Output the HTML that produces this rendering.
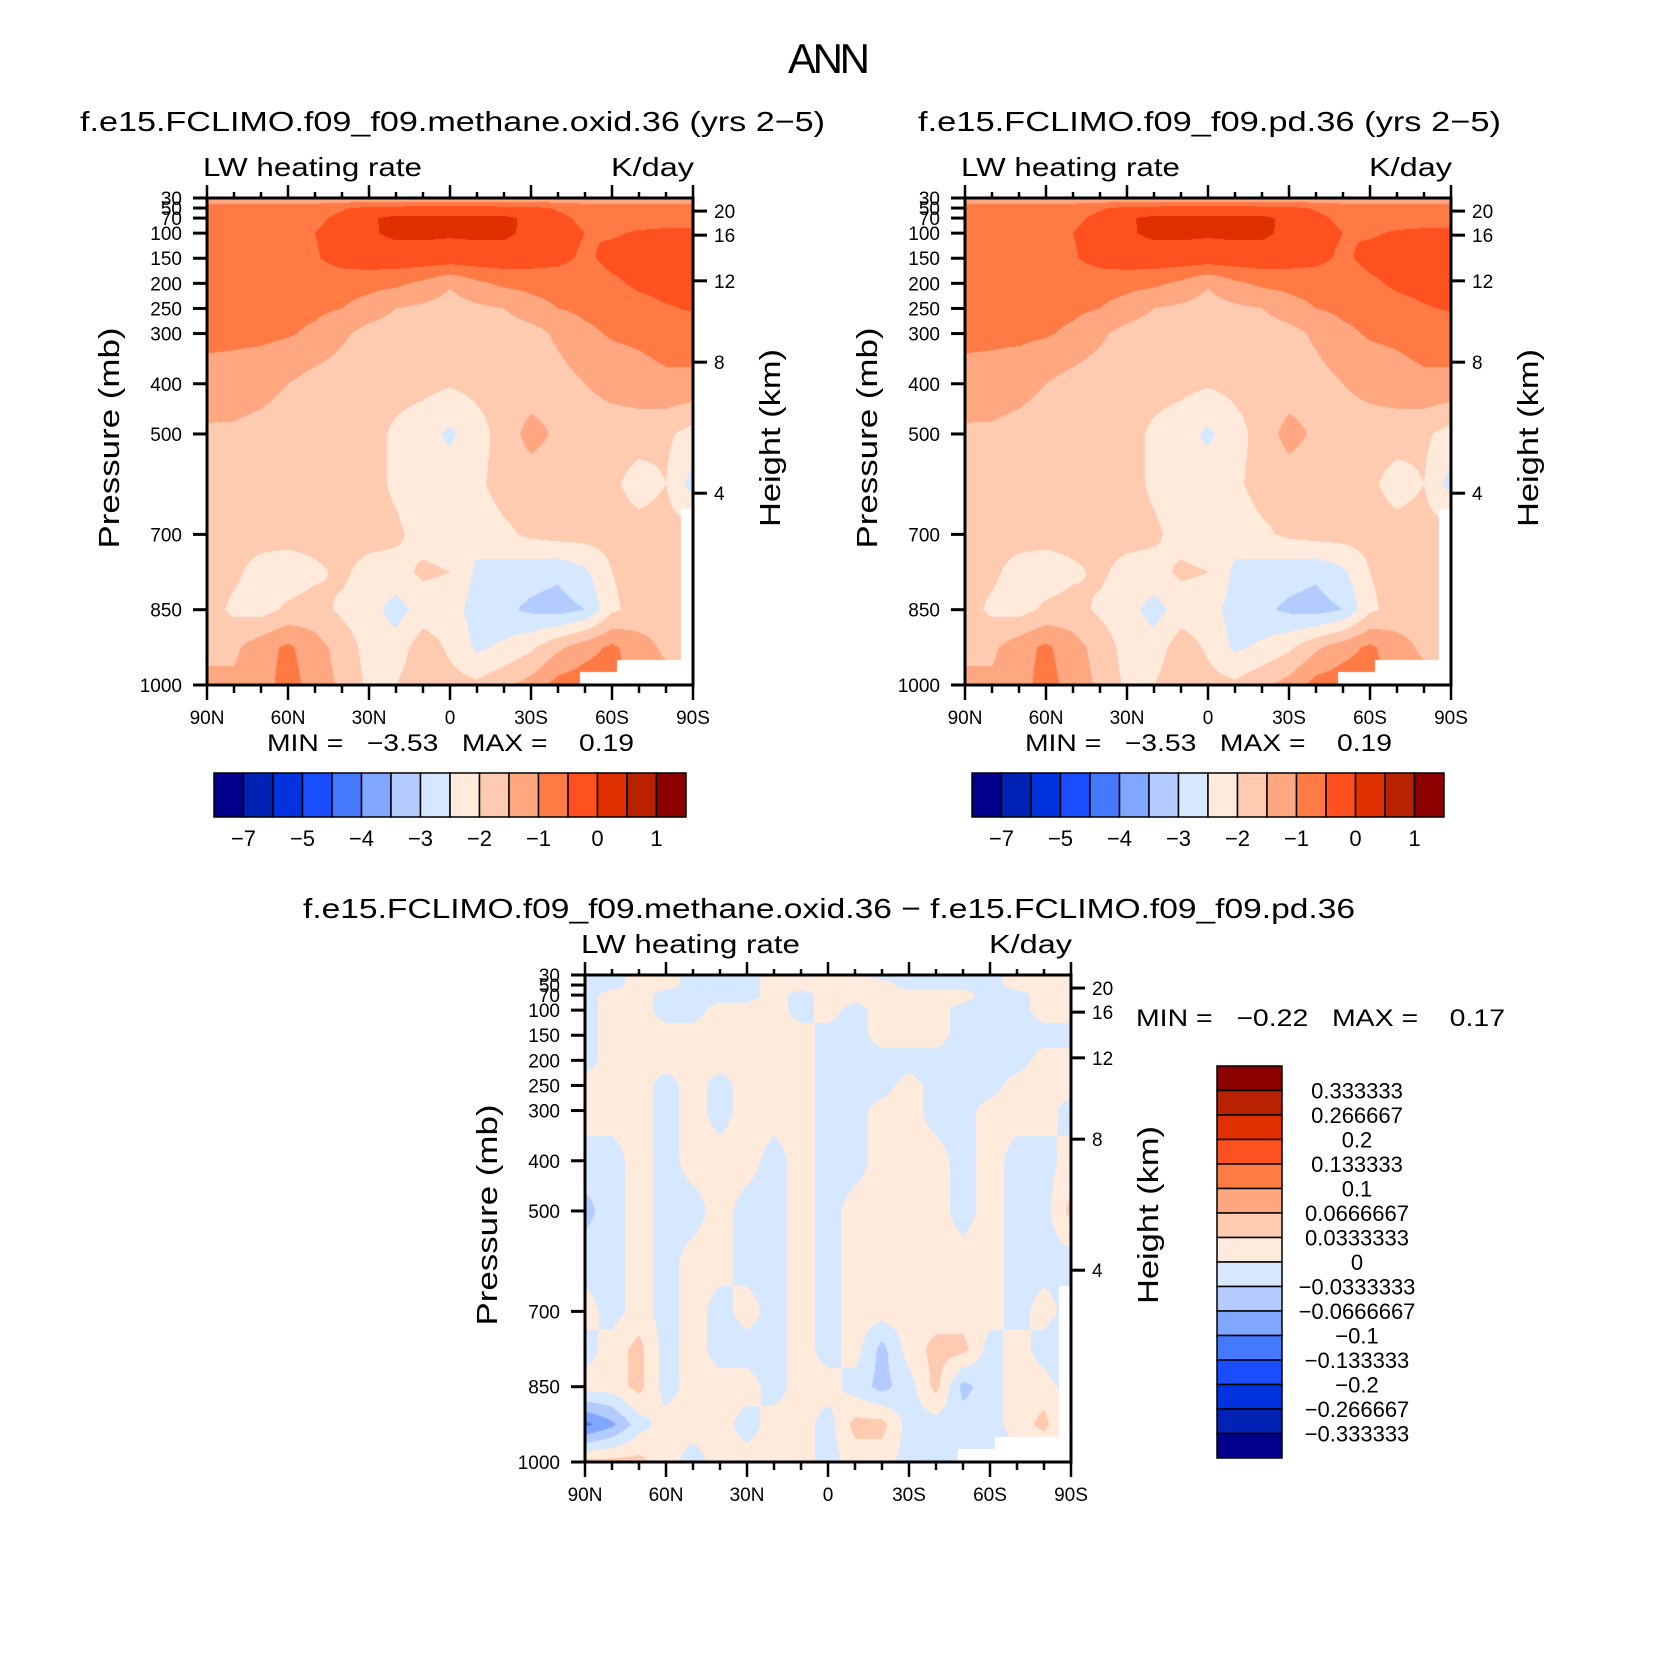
<!DOCTYPE html>
<html><head><meta charset="utf-8">
<style>
html,body{margin:0;padding:0;background:#fff;}
#wrap{position:relative;width:1658px;height:1660px;overflow:hidden;background:#fff;}
canvas{position:absolute;}
svg{position:absolute;left:0;top:0;}
text{font-family:"Liberation Sans",sans-serif;fill:#000;}
</style></head>
<body>
<div id="wrap">
<canvas id="c1" width="486" height="487" style="left:207px;top:198px"></canvas>
<canvas id="c2" width="486" height="487" style="left:965px;top:198px"></canvas>
<canvas id="c3" width="486" height="487" style="left:585px;top:975px"></canvas>
<svg id="svg" width="1658" height="1660" xmlns="http://www.w3.org/2000/svg">
<text x="829" y="73" font-size="42" text-anchor="middle" textLength="82">ANN</text>
<text x="80" y="131" font-size="28" textLength="745" lengthAdjust="spacingAndGlyphs">f.e15.FCLIMO.f09_f09.methane.oxid.36 (yrs 2−5)</text>
<text x="918" y="131" font-size="28" textLength="583" lengthAdjust="spacingAndGlyphs">f.e15.FCLIMO.f09_f09.pd.36 (yrs 2−5)</text>
<text x="303" y="918" font-size="28" textLength="1052" lengthAdjust="spacingAndGlyphs">f.e15.FCLIMO.f09_f09.methane.oxid.36  −  f.e15.FCLIMO.f09_f09.pd.36</text>
<text x="267" y="751" font-size="24" textLength="367" lengthAdjust="spacingAndGlyphs" xml:space="preserve">MIN =   −3.53   MAX =    0.19</text>
<text x="1025" y="751" font-size="24" textLength="367" lengthAdjust="spacingAndGlyphs" xml:space="preserve">MIN =   −3.53   MAX =    0.19</text>
<text x="1136" y="1026" font-size="24" textLength="369" lengthAdjust="spacingAndGlyphs" xml:space="preserve">MIN =   −0.22   MAX =    0.17</text>
</svg>
</div>
<script>
// ---------- data ----------
const LATS = [90,80,70,60,50,40,30,20,10,0,-10,-20,-30,-40,-50,-60,-70,-80,-90];
const PLEV = [30,50,70,100,150,200,250,300,400,500,600,700,775,850,925,1000];
const TOP_LEVELS = [-7,-6,-5,-4.5,-4,-3.5,-3,-2.5,-2,-1.5,-1,-0.5,0,0.5,1];
const TOP_TICK_LABELS = ["−7","−5","−4","−3","−2","−1","0","1"];
const DIFF_LEVELS = [-0.333333,-0.266667,-0.2,-0.133333,-0.1,-0.0666667,-0.0333333,0,0.0333333,0.0666667,0.1,0.133333,0.2,0.266667,0.333333];
const DIFF_TICK_LABELS = ["−0.333333","−0.266667","−0.2","−0.133333","−0.1","−0.0666667","−0.0333333","0","0.0333333","0.0666667","0.1","0.133333","0.2","0.266667","0.333333"];
const COLORS = ['#00008c','#0022b5','#0033e0','#1a4dff','#4479ff','#80a6ff','#b3cbff','#d5e8ff','#ffeadb','#ffcbb0','#ffa780','#ff7a45','#ff5020','#e03000','#b82200','#8c0000'];
const MASK_LAT = [-48,-62,-85.5];
const MASK_P = [975,950,650];
const X_TICK_LATS = [90,60,30,0,-30,-60,-90];
const X_TICK_LABELS = ["90N","60N","30N","0","30S","60S","90S"];
const P_TICKS = [30,50,70,100,150,200,250,300,400,500,700,850,1000];
const KM_TICKS = [20,16,12,8,4];
const KM_P = [56,104,195,357,618];

const FIELD_METHANE = [
[-1.4,-1.4,-1.4,-1.4,-1.4,-1.4,-1.4,-1.4,-1.4,-1.4,-1.4,-1.4,-1.4,-1.4,-1.4,-1.4,-1.4,-1.4,-1.4],
[-0.7,-0.7,-0.7,-0.7,-0.7,-0.55,-0.4,-0.35,-0.3,-0.3,-0.3,-0.35,-0.4,-0.55,-0.7,-0.7,-0.7,-0.7,-0.7],
[-0.7,-0.7,-0.7,-0.7,-0.6,-0.4,-0.05,0.1,0.1,0.08,0.1,0.1,-0.1,-0.4,-0.6,-0.7,-0.7,-0.7,-0.7],
[-0.7,-0.7,-0.7,-0.7,-0.5,-0.3,-0.05,0.08,0.08,0.05,0.08,0.08,-0.1,-0.3,-0.5,-0.55,-0.45,-0.4,-0.4],
[-0.8,-0.8,-0.8,-0.75,-0.55,-0.3,-0.2,-0.2,-0.2,-0.2,-0.2,-0.2,-0.25,-0.35,-0.6,-0.35,-0.3,-0.3,-0.3],
[-0.8,-0.8,-0.8,-0.8,-0.8,-0.8,-0.85,-0.9,-1.1,-1.45,-1.1,-0.9,-0.85,-0.8,-0.8,-0.6,-0.4,-0.3,-0.3],
[-0.85,-0.85,-0.85,-0.85,-0.9,-1.0,-1.2,-1.5,-1.6,-1.7,-1.6,-1.5,-1.2,-1.0,-0.9,-0.85,-0.7,-0.55,-0.45],
[-0.9,-0.9,-0.9,-0.95,-1.1,-1.4,-1.7,-1.8,-1.8,-1.8,-1.8,-1.8,-1.7,-1.4,-1.1,-0.95,-0.9,-0.8,-0.8],
[-1.15,-1.2,-1.3,-1.5,-1.7,-1.8,-1.8,-1.8,-1.85,-1.95,-1.85,-1.8,-1.8,-1.7,-1.5,-1.3,-1.2,-1.1,-1.1],
[-1.6,-1.6,-1.7,-1.8,-1.8,-1.8,-1.8,-2.1,-2.3,-2.6,-2.2,-1.8,-1.3,-1.6,-1.8,-1.8,-1.8,-1.9,-2.2],
[-1.8,-1.8,-1.8,-1.8,-1.8,-1.8,-1.8,-2.1,-2.3,-2.2,-2.1,-1.8,-1.8,-1.8,-1.8,-1.9,-2.2,-2.0,-2.7],
[-1.8,-1.8,-1.8,-1.8,-1.8,-1.8,-1.8,-1.9,-2.2,-2.3,-2.3,-2.1,-1.9,-1.8,-1.8,-1.8,-1.8,-1.8,-1.8],
[-1.8,-1.9,-2.2,-2.3,-2.1,-1.9,-2.2,-2.2,-1.9,-2.0,-2.6,-2.7,-2.8,-2.9,-2.6,-2.0,-1.8,-1.8,-1.8],
[-1.8,-2.1,-2.2,-1.9,-1.8,-2.1,-2.3,-2.7,-2.3,-2.3,-2.7,-2.9,-3.1,-3.2,-3.0,-2.1,-1.8,-1.7,-1.8],
[-1.7,-1.6,-1.2,-0.9,-1.3,-1.7,-2.2,-2.3,-1.7,-2.1,-2.6,-2.4,-2.1,-1.6,-1.2,-0.9,-1.3,-1.6,-1.6],
[-1.3,-1.4,-1.2,-0.8,-1.2,-1.6,-2.1,-2.0,-1.6,-1.8,-1.9,-1.6,-1.3,-0.8,-0.7,-0.7,-1.3,-1.3,-1.3]
];
const FIELD_PD = [
[-1.4,-1.4,-1.4,-1.4,-1.4,-1.4,-1.4,-1.4,-1.4,-1.4,-1.4,-1.4,-1.4,-1.4,-1.4,-1.4,-1.4,-1.4,-1.4],
[-0.7,-0.7,-0.7,-0.7,-0.7,-0.55,-0.4,-0.35,-0.3,-0.3,-0.3,-0.35,-0.4,-0.55,-0.7,-0.7,-0.7,-0.7,-0.7],
[-0.7,-0.7,-0.7,-0.7,-0.6,-0.4,-0.05,0.1,0.1,0.08,0.1,0.1,-0.1,-0.4,-0.6,-0.7,-0.7,-0.7,-0.7],
[-0.7,-0.7,-0.7,-0.7,-0.5,-0.3,-0.05,0.08,0.08,0.05,0.08,0.08,-0.1,-0.3,-0.5,-0.55,-0.45,-0.4,-0.4],
[-0.8,-0.8,-0.8,-0.75,-0.55,-0.3,-0.2,-0.2,-0.2,-0.2,-0.2,-0.2,-0.25,-0.35,-0.6,-0.35,-0.3,-0.3,-0.3],
[-0.8,-0.8,-0.8,-0.8,-0.8,-0.8,-0.85,-0.9,-1.1,-1.45,-1.1,-0.9,-0.85,-0.8,-0.8,-0.6,-0.4,-0.3,-0.3],
[-0.85,-0.85,-0.85,-0.85,-0.9,-1.0,-1.2,-1.5,-1.6,-1.7,-1.6,-1.5,-1.2,-1.0,-0.9,-0.85,-0.7,-0.55,-0.45],
[-0.9,-0.9,-0.9,-0.95,-1.1,-1.4,-1.7,-1.8,-1.8,-1.8,-1.8,-1.8,-1.7,-1.4,-1.1,-0.95,-0.9,-0.8,-0.8],
[-1.15,-1.2,-1.3,-1.5,-1.7,-1.8,-1.8,-1.8,-1.85,-1.95,-1.85,-1.8,-1.8,-1.7,-1.5,-1.3,-1.2,-1.1,-1.1],
[-1.6,-1.6,-1.7,-1.8,-1.8,-1.8,-1.8,-2.1,-2.3,-2.6,-2.2,-1.8,-1.3,-1.6,-1.8,-1.8,-1.8,-1.9,-2.2],
[-1.8,-1.8,-1.8,-1.8,-1.8,-1.8,-1.8,-2.1,-2.3,-2.2,-2.1,-1.8,-1.8,-1.8,-1.8,-1.9,-2.2,-2.0,-2.7],
[-1.8,-1.8,-1.8,-1.8,-1.8,-1.8,-1.8,-1.9,-2.2,-2.3,-2.3,-2.1,-1.9,-1.8,-1.8,-1.8,-1.8,-1.8,-1.8],
[-1.8,-1.9,-2.2,-2.3,-2.1,-1.9,-2.2,-2.2,-1.9,-2.0,-2.6,-2.7,-2.8,-2.9,-2.6,-2.0,-1.8,-1.8,-1.8],
[-1.8,-2.1,-2.2,-1.9,-1.8,-2.1,-2.3,-2.7,-2.3,-2.3,-2.7,-2.9,-3.1,-3.2,-3.0,-2.1,-1.8,-1.7,-1.8],
[-1.7,-1.6,-1.2,-0.9,-1.3,-1.7,-2.2,-2.3,-1.7,-2.1,-2.6,-2.4,-2.1,-1.6,-1.2,-0.9,-1.3,-1.6,-1.6],
[-1.3,-1.4,-1.2,-0.8,-1.2,-1.6,-2.1,-2.0,-1.6,-1.8,-1.9,-1.6,-1.3,-0.8,-0.7,-0.7,-1.3,-1.3,-1.3]
];
const FIELD_DIFF = [
[-0.015,-0.015,0.015,0.015,-0.015,-0.015,-0.015,0.015,0.015,0.015,0.015,-0.015,-0.015,-0.015,-0.015,-0.015,0.015,0.015,0.015],
[-0.015,-0.015,0.015,0.015,-0.015,-0.015,-0.015,0.015,0.015,0.015,0.015,0.015,-0.015,-0.015,-0.015,-0.015,0.015,0.015,0.015],
[-0.015,0.015,0.015,-0.015,-0.015,-0.015,-0.015,0.015,-0.015,0.015,0.015,0.015,0.015,0.015,0.015,-0.015,-0.015,0.015,0.015],
[-0.015,0.015,0.015,-0.015,-0.015,0.015,0.015,0.015,-0.015,0.015,-0.015,0.015,0.015,0.015,-0.015,-0.015,-0.015,0.015,0.015],
[-0.015,0.015,0.015,0.015,0.015,0.015,0.015,0.015,0.015,-0.015,-0.015,0.015,0.015,0.015,-0.015,-0.015,-0.015,-0.015,-0.015],
[-0.015,0.015,0.015,0.015,0.015,0.015,0.015,0.015,0.015,-0.015,-0.015,-0.015,-0.015,-0.015,-0.015,-0.015,-0.015,0.015,0.015],
[0.015,0.015,0.015,-0.015,0.015,-0.015,0.015,0.015,0.015,-0.015,-0.015,-0.015,0.015,-0.015,-0.015,-0.015,0.015,0.015,0.015],
[0.015,0.015,0.015,-0.015,0.015,-0.015,0.015,0.015,0.015,-0.015,-0.015,0.015,0.015,-0.015,-0.015,0.015,0.015,0.015,-0.015],
[-0.015,-0.015,0.015,-0.015,0.015,0.015,0.015,-0.015,0.015,-0.015,-0.015,0.015,0.015,0.015,-0.015,0.015,-0.015,-0.015,0.015],
[-0.045,-0.015,0.015,-0.015,-0.015,0.015,-0.015,-0.015,0.015,-0.015,0.015,0.015,0.015,0.015,-0.015,0.015,-0.015,-0.015,0.045],
[-0.015,-0.015,0.015,-0.015,0.015,0.015,-0.015,-0.015,0.015,-0.015,0.015,0.015,0.015,0.015,0.015,0.015,-0.015,-0.015,-0.015],
[0.015,-0.015,0.015,-0.015,0.015,-0.015,0.015,-0.015,0.015,-0.015,0.015,0.015,0.015,0.015,0.015,0.015,-0.015,0.015,-0.015],
[-0.015,0.015,0.045,-0.015,0.015,-0.015,-0.015,-0.015,0.015,-0.015,0.015,-0.045,0.015,0.045,0.045,-0.015,0.015,-0.015,-0.045],
[0.015,0.015,0.045,-0.015,0.015,0.015,0.015,-0.015,0.015,0.015,-0.015,-0.045,-0.015,0.045,-0.045,-0.015,0.015,0.015,-0.015],
[-0.11,-0.075,-0.015,0.015,0.015,0.015,-0.015,0.015,0.015,-0.015,0.045,0.045,-0.015,-0.015,-0.015,-0.015,0.015,0.045,-0.015],
[0.045,0.045,0.045,0.015,-0.015,0.015,0.015,0.015,0.015,-0.015,0.015,0.015,-0.015,-0.015,-0.015,-0.015,-0.015,-0.015,-0.015]
];

// ---------- axis functions ----------
const PW = 486, PH = 487;
function xOf(lat, x0){ return x0 + (90 - lat) / 180 * PW; }
function yOf(p, y0){ return y0 + (p - 30) / 970 * PH; }
function latAt(px){ return 90 - px / PW * 180; }
function pAt(py){ return 30 + py / PH * 970; }

function hex(c){ return [parseInt(c.substr(1,2),16),parseInt(c.substr(3,2),16),parseInt(c.substr(5,2),16)]; }
const RGB = COLORS.map(hex);

function sample(field, lat, p){
  let fi = (90 - lat) / 10; if (fi < 0) fi = 0; if (fi > LATS.length - 1) fi = LATS.length - 1;
  let i0 = Math.min(Math.floor(fi), LATS.length - 2); const tx = fi - i0;
  let j0 = 0; while (j0 < PLEV.length - 2 && p > PLEV[j0 + 1]) j0++;
  let ty = (p - PLEV[j0]) / (PLEV[j0 + 1] - PLEV[j0]); ty = Math.max(0, Math.min(1, ty));
  const a = field[j0][i0], b = field[j0][i0 + 1], c = field[j0 + 1][i0], d = field[j0 + 1][i0 + 1];
  return (a * (1 - tx) + b * tx) * (1 - ty) + (c * (1 - tx) + d * tx) * ty;
}
function masked(lat, p){
  for (let k = 0; k < MASK_LAT.length; k++) if (lat < MASK_LAT[k] && p > MASK_P[k]) return true;
  return false;
}
function drawField(id, field, levels){
  const cv = document.getElementById(id), ctx = cv.getContext('2d');
  const img = ctx.createImageData(PW, PH);
  for (let py = 0; py < PH; py++){
    const p = pAt(py + 0.5);
    for (let px = 0; px < PW; px++){
      const lat = latAt(px + 0.5);
      const o = (py * PW + px) * 4;
      let col = [255,255,255];
      if (!masked(lat, p)){
        const v = sample(field, lat, p);
        let k = 0; while (k < levels.length && v >= levels[k]) k++;
        col = RGB[k];
      }
      img.data[o] = col[0]; img.data[o+1] = col[1]; img.data[o+2] = col[2]; img.data[o+3] = 255;
    }
  }
  ctx.putImageData(img, 0, 0);
}
drawField('c1', FIELD_METHANE, TOP_LEVELS);
drawField('c2', FIELD_PD, TOP_LEVELS);
drawField('c3', FIELD_DIFF, DIFF_LEVELS);

// ---------- SVG axes ----------
const svg = document.getElementById('svg');
const NS = 'http://www.w3.org/2000/svg';
function el(tag, attrs, txt){
  const e = document.createElementNS(NS, tag);
  for (const k in attrs) e.setAttribute(k, attrs[k]);
  if (txt !== undefined) e.textContent = txt;
  svg.appendChild(e); return e;
}
function line(x1,y1,x2,y2,w){ return el('line',{x1:x1,y1:y1,x2:x2,y2:y2,stroke:'#000','stroke-width':w}); }

function drawPanel(x0, y0, tag){
  const x1 = x0 + PW, y1 = y0 + PH;
  const fr = el('rect',{x:x0,y:y0,width:PW,height:PH,fill:'none',stroke:'#000','stroke-width':3});
  
  
  for (let lat = 90; lat >= -90; lat -= 10){
    const x = xOf(lat, x0), major = (lat % 30 === 0);
    const tb = line(x, y1, x, y1 + (major ? 15 : 8), 2.5);
    
    
    const tt = line(x, y0, x, y0 - (major ? 13 : 6), 2.5);
    
    
  }
  X_TICK_LATS.forEach((lat, i) => {
    const t = el('text',{x:xOf(lat, x0), y:y1 + 39, 'font-size':19, 'text-anchor':'middle'}, X_TICK_LABELS[i]);
    
    
  });
  P_TICKS.forEach(p => {
    const y = yOf(p, y0);
    const tk = line(x0 - 14, y, x0, y, 3);
    
    
    const t = el('text',{x:x0 - 25, y:y + 7, 'font-size':19, 'text-anchor':'end'}, String(p));
    
    
  });
  KM_TICKS.forEach((km, i) => {
    const y = yOf(KM_P[i], y0);
    const tk = line(x1, y, x1 + 14, y, 3);
    
    
    const t = el('text',{x:x1 + 21, y:y + 7, 'font-size':19}, String(km));
    
    
  });
  const cy = y0 + 240;
  const pl = el('text',{x:0, y:0, 'font-size':29, 'text-anchor':'middle', textLength:221, lengthAdjust:'spacingAndGlyphs', transform:'translate(' + (x0 - 88) + ',' + cy + ') rotate(-90)'}, 'Pressure  (mb)');
  
  
  const hl = el('text',{x:0, y:0, 'font-size':29, 'text-anchor':'middle', textLength:178, lengthAdjust:'spacingAndGlyphs', transform:'translate(' + (x1 + 87) + ',' + cy + ') rotate(-90)'}, 'Height  (km)');
  
  
  const lw = el('text',{x:x0 - 4, y:y0 - 22, 'font-size':26, textLength:219, lengthAdjust:'spacingAndGlyphs'}, 'LW  heating  rate');
  
  
  const un = el('text',{x:x1 + 1, y:y0 - 22, 'font-size':26, 'text-anchor':'end', textLength:83, lengthAdjust:'spacingAndGlyphs'}, 'K/day');
  
  
}
drawPanel(207, 198, 'panel1');
drawPanel(965, 198, 'panel2');
drawPanel(585, 975, 'panel3');

function hColorbar(x0, y0, tag){
  const w = 472 / 16;
  COLORS.forEach((c, i) => {
    const r = el('rect',{x:x0 + i * w, y:y0, width:w, height:44, fill:c, stroke:'#000', 'stroke-width':1.5});
    
    
  });
  TOP_TICK_LABELS.forEach((lab, j) => {
    const k = 2 * j + 1;
    const t = el('text',{x:x0 + k * w, y:y0 + 73, 'font-size':22, 'text-anchor':'middle'}, lab);
    
    
  });
}
hColorbar(214, 773, 'panel1');
hColorbar(972, 773, 'panel2');

(function(){
  const x0 = 1217, y0 = 1066, h = 24.5;
  for (let i = 0; i < COLORS.length; i++){
    const r = el('rect',{x:x0, y:y0 + i * h, width:65, height:h, fill:COLORS[COLORS.length - 1 - i], stroke:'#000', 'stroke-width':1.5});
    
    
  }
  for (let k = 1; k <= DIFF_TICK_LABELS.length; k++){
    const lab = DIFF_TICK_LABELS[DIFF_TICK_LABELS.length - k];
    const t = el('text',{x:1357, y:y0 + k * h + 8, 'font-size':22, 'text-anchor':'middle'}, lab);
    
    
  }
})();
</script>
</body></html>
